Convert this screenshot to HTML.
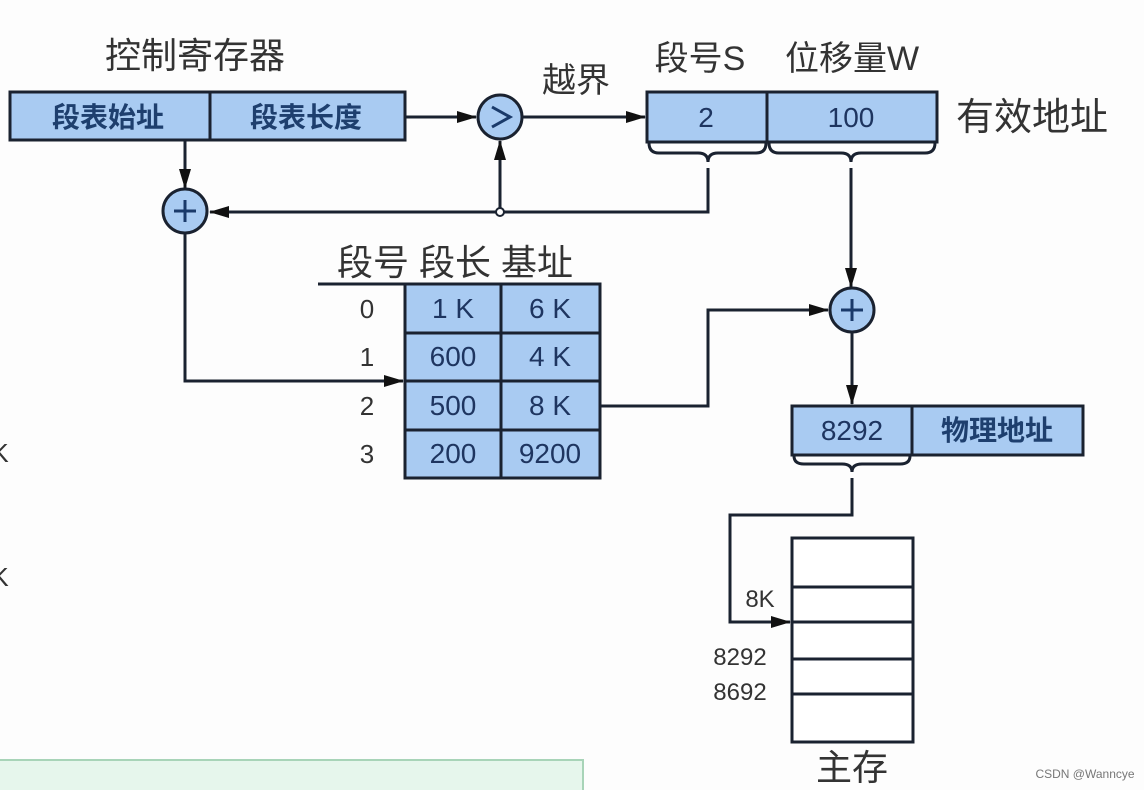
<!DOCTYPE html>
<html><head><meta charset="utf-8"><style>
html,body{margin:0;padding:0;background:#fff;}
svg{display:block}
text{font-family:"Liberation Sans","Noto Sans CJK SC",sans-serif;}
</style></head><body>
<svg width="1144" height="790" viewBox="0 0 1144 790" xmlns="http://www.w3.org/2000/svg">
<defs>
<marker id="a" markerWidth="20" markerHeight="12" refX="19" refY="6" orient="auto" markerUnits="userSpaceOnUse">
<path d="M0,0 L20,6 L0,12 z" fill="#111"/></marker>
</defs>
<rect width="1144" height="790" fill="#fdfdfd"/>
<g stroke="#1a2230" stroke-width="3" fill="none">
<rect x="10" y="92" width="395" height="48" fill="#a9cbf2"/>
<line x1="210" y1="92" x2="210" y2="140"/>
<rect x="647" y="92" width="290" height="50" fill="#a9cbf2"/>
<line x1="767" y1="92" x2="767" y2="142"/>
<path d="M649,143 q0,10 10,10 h39 q10,0 10,9 q0,-9 10,-9 h38 q10,0 10,-10"/>
<path d="M769,143 q0,10 10,10 h62 q10,0 10,9 q0,-9 10,-9 h64 q10,0 10,-10"/>
<line x1="405" y1="117" x2="476" y2="117" marker-end="url(#a)"/>
<circle cx="500" cy="117" r="22" fill="#a9cbf2"/>
<line x1="522" y1="117" x2="645" y2="117" marker-end="url(#a)"/>
<polyline points="708,168 708,212 210,212" marker-end="url(#a)"/>
<line x1="500" y1="212" x2="500" y2="141" marker-end="url(#a)"/>
<circle cx="185" cy="211" r="22" fill="#a9cbf2"/>
<line x1="185" y1="140" x2="185" y2="188" marker-end="url(#a)"/>
<polyline points="185,233 185,381 403,381" marker-end="url(#a)"/>
<line x1="318" y1="284" x2="405" y2="284"/>
<rect x="405" y="284" width="195" height="194" fill="#a9cbf2"/>
<line x1="501" y1="284" x2="501" y2="478"/>
<line x1="405" y1="333" x2="600" y2="333"/>
<line x1="405" y1="381" x2="600" y2="381"/>
<line x1="405" y1="430" x2="600" y2="430"/>
<polyline points="600,406 708,406 708,310 828,310" marker-end="url(#a)"/>
<circle cx="852" cy="310" r="22" fill="#a9cbf2"/>
<line x1="851" y1="168" x2="851" y2="287" marker-end="url(#a)"/>
<line x1="852" y1="332" x2="852" y2="404" marker-end="url(#a)"/>
<rect x="792" y="406" width="291" height="49" fill="#a9cbf2"/>
<line x1="912" y1="406" x2="912" y2="455"/>
<path d="M794,456 q0,8 10,8 h38 q10,0 10,8 q0,-8 10,-8 h38 q10,0 10,-8"/>
<polyline points="852,478 852,515 730,515 730,622 790,622" marker-end="url(#a)"/>
<rect x="792" y="538" width="121" height="204" fill="#fff"/>
<line x1="792" y1="587" x2="913" y2="587"/>
<line x1="792" y1="622" x2="913" y2="622"/>
<line x1="792" y1="659" x2="913" y2="659"/>
<line x1="792" y1="694" x2="913" y2="694"/>
</g>
<circle cx="500" cy="212" r="4" fill="#fff" stroke="#1a2230" stroke-width="2"/>
<g stroke="#1a3a6a" stroke-width="3" fill="none">
<line x1="174" y1="211" x2="196" y2="211"/><line x1="185" y1="200" x2="185" y2="222"/>
<line x1="841" y1="310" x2="863" y2="310"/><line x1="852" y1="299" x2="852" y2="321"/>
<polyline points="492,107 510,117 492,127"/>
</g>
<g fill="#333" font-size="36" text-anchor="middle">
<text x="195" y="68">控制寄存器</text>
<text x="576" y="92" font-size="34">越界</text>
<text x="700" y="70" font-size="34">段号S</text>
<text x="852" y="70" font-size="34">位移量W</text>
<text x="1032" y="130" font-size="38">有效地址</text>
<text x="455" y="275" font-size="36">段号 段长 基址</text>
<text x="852" y="780" font-size="36">主存</text>
</g>
<g fill="#1e3f6e" font-size="28" text-anchor="middle" font-weight="bold">
<text x="108" y="127">段表始址</text>
<text x="306" y="127">段表长度</text>
<text x="997" y="440">物理地址</text>
</g>
<g fill="#1e3560" font-size="28" text-anchor="middle">
<text x="706" y="127">2</text>
<text x="851" y="127">100</text>
<text x="453" y="318">1 K</text><text x="550" y="318">6 K</text>
<text x="453" y="366">600</text><text x="550" y="366">4 K</text>
<text x="453" y="415">500</text><text x="550" y="415">8 K</text>
<text x="453" y="463">200</text><text x="550" y="463">9200</text>
<text x="852" y="440">8292</text>
</g>
<g fill="#333" font-size="26" text-anchor="middle">
<text x="367" y="318">0</text><text x="367" y="366">1</text>
<text x="367" y="415">2</text><text x="367" y="463">3</text>
<text x="760" y="607" font-size="24">8K</text>
<text x="740" y="665" font-size="24">8292</text>
<text x="740" y="700" font-size="24">8692</text>
<text x="0" y="462">K</text><text x="0" y="586">K</text>
</g>
<rect x="-2" y="760" width="585" height="40" fill="#e6f6ec" stroke="#a8d4b8" stroke-width="2"/>
<text x="1085" y="778" fill="#777" font-size="12" text-anchor="middle">CSDN @Wanncye</text>
</svg>
</body></html>
